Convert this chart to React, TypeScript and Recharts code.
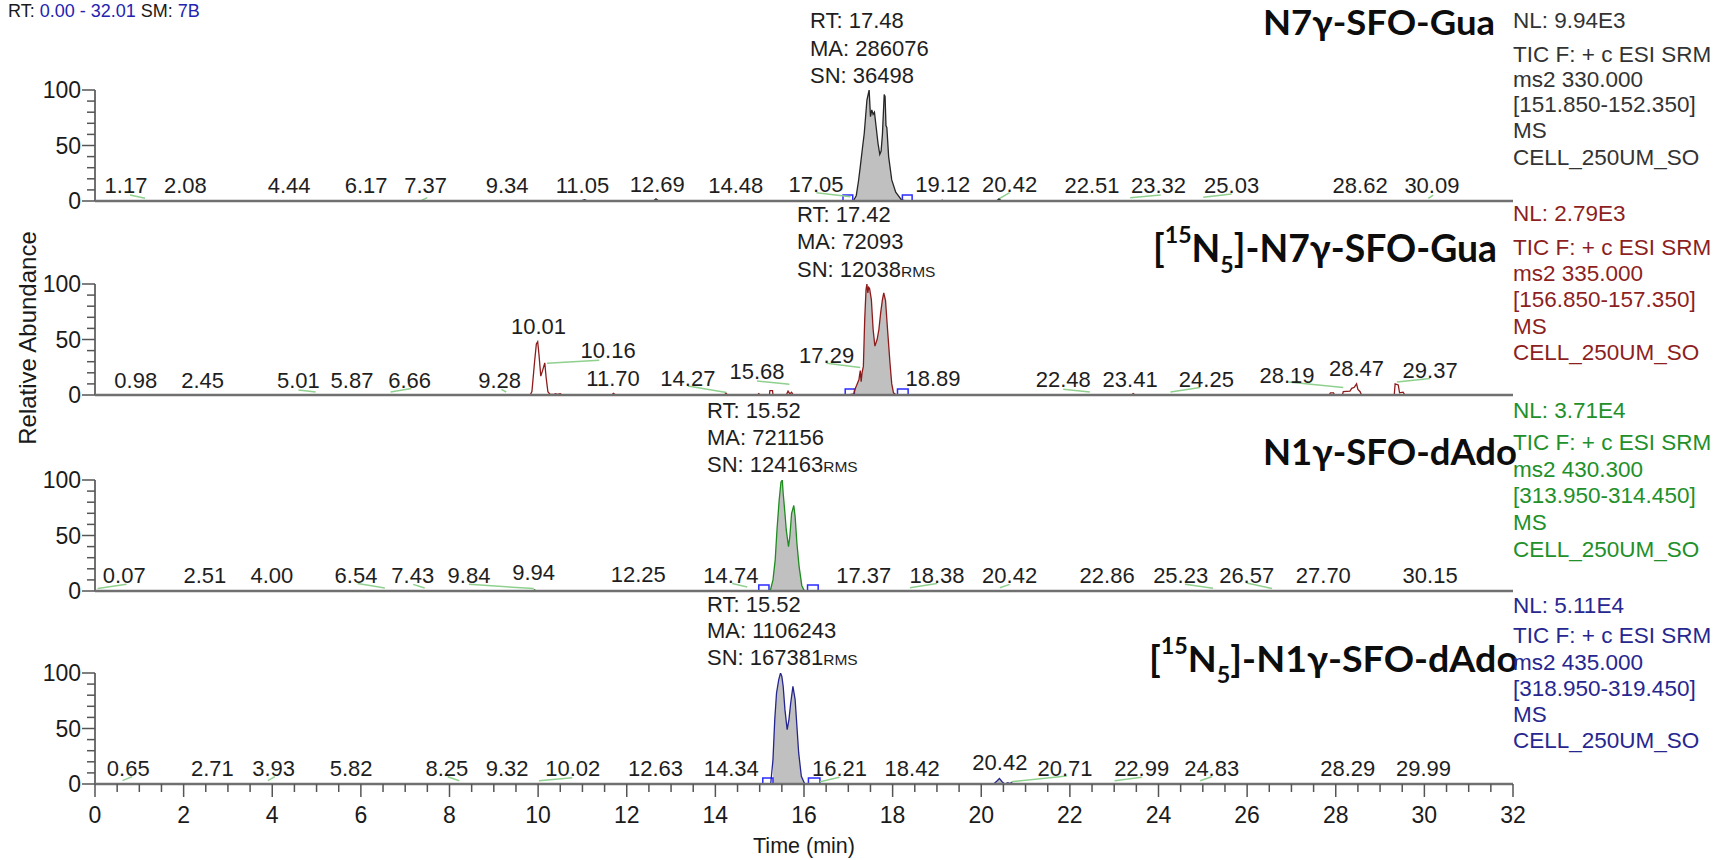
import React from "react";
import {
  Area,
  ComposedChart,
  Line,
  ReferenceArea,
  ReferenceLine,
  Scatter,
  XAxis,
  YAxis
} from "recharts";

const FONT = "'Liberation Sans', Arial, sans-serif";
const TITLE_FONT = "Lato, 'Open Sans', sans-serif";

// axes
const xTicks = Array.from({ length: 65 }, (_, i) => i * 0.5);
const yTicks = [0, 10, 20, 30, 40, 50, 60, 70, 80, 90, 100];

// traces: [time (min), relative abundance (%)]
const guaTrace = [
  [0, 0], [10.95, 0], [11.05, 1.2], [11.12, 0],
  [12.6, 0], [12.66, 2], [12.72, 0],
  [16.9, 0], [17.12, 0.5], [17.18, 5], [17.23, 18], [17.27, 31], [17.32, 48], [17.36, 61],
  [17.42, 91], [17.47, 100], [17.5, 76], [17.53, 82], [17.56, 78], [17.59, 80], [17.63, 66],
  [17.67, 52], [17.71, 42], [17.74, 45], [17.77, 60], [17.81, 96], [17.83, 94], [17.85, 68],
  [17.87, 66], [17.91, 40], [17.98, 19], [18.07, 8], [18.2, 1], [18.3, 0],
  [19.08, 0], [19.12, 0.8], [19.16, 0],
  [20.34, 0], [20.4, 1.8], [20.46, 0],
  [32, 0]
];

const gua15Trace = [
  [0, 0], [9.82, 0], [9.86, 3], [9.92, 30], [9.96, 46], [9.99, 48], [10.02, 36], [10.06, 17],
  [10.1, 22], [10.15, 29], [10.18, 16], [10.22, 3], [10.27, 0.5], [10.36, 0.5], [10.39, 1.2],
  [10.43, 0.6], [10.5, 1.2], [10.54, 0],
  [11.66, 0], [11.7, 1.5], [11.75, 0],
  [14.2, 0], [14.24, 1.5], [14.28, 0],
  [14.95, 0], [14.98, 1.2], [15.01, 0],
  [15.22, 0], [15.23, 4], [15.29, 4], [15.3, 0],
  [15.6, 0], [15.64, 3.5], [15.68, 1], [15.72, 2.5], [15.76, 0],
  [17.0, 0], [17.12, 1], [17.16, 6], [17.2, 10], [17.24, 14], [17.27, 22], [17.29, 12],
  [17.31, 20], [17.34, 26], [17.37, 68], [17.4, 95], [17.42, 100], [17.44, 92], [17.46, 97],
  [17.48, 96], [17.52, 86], [17.56, 59], [17.6, 44], [17.65, 50], [17.69, 59], [17.73, 74],
  [17.77, 86], [17.8, 92], [17.84, 85], [17.88, 62], [17.94, 29], [17.98, 10], [18.02, 2],
  [18.08, 0],
  [23.39, 0], [23.43, 1.2], [23.47, 0],
  [27.85, 0], [27.88, 2], [27.95, 2], [27.97, 0],
  [28.15, 0], [28.17, 3], [28.32, 3.5], [28.36, 6], [28.42, 7], [28.47, 10], [28.5, 5],
  [28.55, 3], [28.58, 0],
  [29.32, 0], [29.34, 10], [29.41, 9], [29.44, 2], [29.52, 2.5], [29.56, 0],
  [32, 0]
];

const dadoTrace = [
  [0, 0], [9.88, 0], [9.92, 1], [9.96, 0],
  [15.2, 0], [15.24, 0.5], [15.3, 10], [15.35, 28], [15.39, 55], [15.44, 82], [15.48, 98],
  [15.51, 100], [15.53, 88], [15.57, 70], [15.6, 55], [15.65, 40], [15.68, 49], [15.72, 70],
  [15.77, 77], [15.8, 67], [15.84, 43], [15.89, 22], [15.95, 5], [16.0, 0.7], [16.05, 0],
  [32, 0]
];

const dado15Trace = [
  [0, 0], [15.2, 0], [15.25, 0.6], [15.3, 22], [15.34, 58], [15.38, 82], [15.43, 94],
  [15.47, 100], [15.5, 97], [15.53, 88], [15.57, 67], [15.62, 49], [15.66, 58], [15.7, 73],
  [15.75, 88], [15.8, 76], [15.84, 52], [15.88, 28], [15.94, 7], [16.01, 0.6], [16.06, 0],
  [20.28, 0], [20.36, 3], [20.41, 5], [20.47, 2], [20.53, 0], [20.6, 1.2], [20.64, 0.3],
  [20.68, 1.2], [20.72, 0],
  [32, 0]
];

// peak labels: [text, time where drawn, height (%)]
const guaLabels: [string, number, number][] = [
  ["1.17", 0.7, 7], ["2.08", 2.04, 7], ["4.44", 4.38, 7], ["6.17", 6.12, 7], ["7.37", 7.46, 7],
  ["9.34", 9.3, 7], ["11.05", 11.0, 7], ["12.69", 12.69, 8], ["14.48", 14.46, 7],
  ["17.05", 16.27, 8], ["19.12", 19.13, 8], ["20.42", 20.64, 8], ["22.51", 22.5, 7],
  ["23.32", 24.0, 7], ["25.03", 25.65, 7], ["28.62", 28.55, 7], ["30.09", 30.17, 7]
];
const gua15Labels: [string, number, number][] = [
  ["0.98", 0.92, 6.7], ["2.45", 2.43, 6.7], ["5.01", 4.59, 6.7], ["5.87", 5.8, 6.7],
  ["6.66", 7.1, 6.7], ["9.28", 9.13, 6.7], ["10.01", 10.01, 54.7], ["10.16", 11.58, 33.7],
  ["11.70", 11.69, 8], ["14.27", 13.38, 8], ["15.68", 14.94, 14], ["17.29", 16.51, 29],
  ["18.89", 18.91, 8], ["22.48", 21.85, 7.5], ["23.41", 23.36, 7.5], ["24.25", 25.08, 7.5],
  ["28.19", 26.9, 11], ["28.47", 28.47, 17], ["29.37", 30.13, 15.7]
];
const dadoLabels: [string, number, number][] = [
  ["0.07", 0.66, 7], ["2.51", 2.48, 7], ["4.00", 3.99, 7], ["6.54", 5.89, 7], ["7.43", 7.17, 7],
  ["9.84", 8.44, 7], ["9.94", 9.9, 10], ["12.25", 12.26, 8], ["14.74", 14.35, 7],
  ["17.37", 17.35, 7], ["18.38", 19.0, 7], ["20.42", 20.64, 7], ["22.86", 22.84, 7],
  ["25.23", 24.5, 7], ["26.57", 25.99, 7], ["27.70", 27.72, 7], ["30.15", 30.13, 7]
];
const dado15Labels: [string, number, number][] = [
  ["0.65", 0.75, 7], ["2.71", 2.65, 7], ["3.93", 4.03, 7], ["5.82", 5.78, 7], ["8.25", 7.94, 7],
  ["9.32", 9.3, 7], ["10.02", 10.78, 7], ["12.63", 12.65, 7], ["14.34", 14.36, 7],
  ["16.21", 16.8, 7], ["18.42", 18.44, 7], ["20.42", 20.42, 12.6], ["20.71", 21.89, 7],
  ["22.99", 23.62, 7], ["24.83", 25.2, 7], ["28.29", 28.27, 7], ["29.99", 29.98, 7]
];

// green label leaders: [t1, v1, t2, v2]
const guaLeaders = [
  [0.79, 5.4, 1.13, 2.4], [7.37, 0.5, 7.5, 3], [16.28, 7.5, 17.05, 3.9], [20.38, 1.5, 20.64, 7.5],
  [23.36, 3, 24.05, 5.4], [25.01, 3.3, 25.65, 6.3], [30.09, 2.4, 30.2, 5.4]
];
const gua15Leaders = [
  [4.59, 4.5, 4.98, 2.7], [6.67, 2.7, 7.14, 5.8], [9.17, 5.1, 9.28, 2.7], [10.2, 28.6, 11.38, 31.2],
  [13.38, 8.1, 14.25, 2.2], [14.94, 12.6, 15.67, 9.6], [16.51, 28.6, 17.27, 24.7],
  [21.85, 5.1, 22.45, 2.7], [24.27, 2.7, 24.94, 6.7], [26.93, 11.7, 28.17, 6.7],
  [29.38, 11.7, 30.13, 14.8]
];
const dadoLeaders = [
  [0.06, 2.2, 0.71, 6], [5.93, 6.7, 6.54, 2.7], [7.18, 6, 7.44, 2.7], [8.44, 6, 9.9, 2.2],
  [14.38, 6.7, 14.72, 3.6], [18.39, 3, 19.0, 6.7], [20.42, 3, 20.64, 6], [24.6, 6, 25.23, 2.5],
  [25.99, 7.2, 26.56, 2.2]
];
const dado15Leaders = [
  [0.62, 3, 0.84, 6.6], [3.9, 3, 4.06, 6.6], [7.96, 6.6, 8.22, 3], [10.02, 3, 10.77, 5.7],
  [16.36, 2.1, 16.8, 6], [20.68, 2.1, 21.93, 7.2], [23.01, 3, 23.62, 6], [24.94, 3, 25.2, 6.6]
];

// integration start / end markers (min)
const guaBoxes = [[16.88, 17.1], [18.22, 18.44]];
const gua15Boxes = [[16.93, 17.14], [18.11, 18.35]];
const dadoBoxes = [[14.98, 15.21], [16.08, 16.32]];
const dado15Boxes = [[15.07, 15.3], [16.1, 16.36]];

// texts
const titles = ["N7γ-SFO-Gua", "N7γ-SFO-Gua", "N1γ-SFO-dAdo", "N1γ-SFO-dAdo"];
const peakInfo = [
  ["RT: 17.48", "MA: 286076", "SN: 36498"],
  ["RT: 17.42", "MA: 72093", "SN: 12038"],
  ["RT: 15.52", "MA: 721156", "SN: 124163"],
  ["RT: 15.52", "MA: 1106243", "SN: 167381"]
];
const scanInfo = [
  ["NL: 9.94E3", "TIC F: + c ESI SRM", "ms2 330.000", "[151.850-152.350]", "MS", "CELL_250UM_SO"],
  ["NL: 2.79E3", "TIC F: + c ESI SRM", "ms2 335.000", "[156.850-157.350]", "MS", "CELL_250UM_SO"],
  ["NL: 3.71E4", "TIC F: + c ESI SRM", "ms2 430.300", "[313.950-314.450]", "MS", "CELL_250UM_SO"],
  ["NL: 5.11E4", "TIC F: + c ESI SRM", "ms2 435.000", "[318.950-319.450]", "MS", "CELL_250UM_SO"]
];

const colors = ["#262626", "#8e1b1b", "#1f8c1f", "#25258e"];
const infoColors = ["#333333", "#8e1f1f", "#22902a", "#27278f"];

const pts = (rows: number[][]) => rows.map(([t, v]) => ({ t, v }));

function XTick(props: any) {
  const { x, y, payload } = props;
  const v = payload.value;
  const major = Math.abs(v % 2) < 1e-6;
  return (
    <g>
      <line x1={x} x2={x} y1={y} y2={y + (major ? 13 : 8)} stroke="#555" strokeWidth={1.5} />
      {major && (
        <text x={x} y={y + 39} textAnchor="middle" fontSize={23} fontFamily={FONT} fill="#1a1a1a">
          {v}
        </text>
      )}
    </g>
  );
}

function YTick(props: any) {
  const { x, y, payload } = props;
  const v = payload.value;
  const major = v % 50 === 0;
  return (
    <g>
      <line x1={x - (major ? 13 : 8)} x2={x} y1={y} y2={y} stroke="#555" strokeWidth={1.5} />
      {major && (
        <text x={x - 14} y={y + 8} textAnchor="end" fontSize={23} fontFamily={FONT} fill="#1a1a1a">
          {v}
        </text>
      )}
    </g>
  );
}

function PeakLabel(props: any) {
  const { cx, cy, payload } = props;
  if (cx == null || cy == null) return null;
  return (
    <text x={cx} y={cy} textAnchor="middle" fontSize={22} fontFamily={FONT} fill="#1e1e1e">
      {payload.text}
    </text>
  );
}

type PanelProps = {
  top: number;
  trace: number[][];
  color: string;
  labels: [string, number, number][];
  leaders: number[][];
  boxes: number[][];
  fills: number[][];
  last?: boolean;
};

function Panel({ top, trace, color, labels, leaders, boxes, fills, last }: PanelProps) {
  const mt = 40;
  const plotH = 111;
  const axisH = last ? 75 : 12;
  const data = pts(trace);
  const fillData = fills.map(([a, b]) => data.filter((p) => p.t >= a && p.t <= b));
  const labelData = labels.map(([text, t, h]) => ({ text, t, h }));
  return (
    <div style={{ position: "absolute", left: 0, top: top - mt }}>
      <ComposedChart
        width={1715}
        height={mt + plotH + axisH}
        margin={{ top: mt, right: 202, bottom: 0, left: 0 }}
      >
        <XAxis
          dataKey="t"
          type="number"
          domain={[0, 32]}
          allowDataOverflow
          ticks={xTicks}
          interval={0}
          height={axisH}
          axisLine={{ stroke: "#707070", strokeWidth: 2.5 }}
          tickLine={false}
          tickSize={0}
          tickMargin={0}
          tick={last ? <XTick /> : false}
        />
        <YAxis
          type="number"
          domain={[0, 100]}
          allowDataOverflow
          ticks={yTicks}
          interval={0}
          width={95}
          axisLine={{ stroke: "#707070", strokeWidth: 2 }}
          tickLine={false}
          tickSize={0}
          tickMargin={0}
          tick={<YTick />}
        />
        {fillData.map((d, i) => (
          <Area
            key={"f" + i}
            data={d}
            dataKey="v"
            type="linear"
            stroke="none"
            fill="#c0c0c0"
            fillOpacity={1}
            isAnimationActive={false}
          />
        ))}
        {leaders.map(([x1, y1, x2, y2], i) => (
          <ReferenceLine
            key={"g" + i}
            segment={[{ x: x1, y: y1 }, { x: x2, y: y2 }]}
            stroke="#8fd08f"
            strokeWidth={1.5}
            ifOverflow="visible"
          />
        ))}
        <ReferenceLine
          segment={[{ x: boxes[0][0], y: 0 }, { x: boxes[1][1], y: 0 }]}
          stroke="#2b2bff"
          strokeWidth={2}
        />
        {boxes.map(([a, b], i) => (
          <ReferenceArea
            key={"b" + i}
            x1={a}
            x2={b}
            y1={0}
            y2={5.5}
            fill="none"
            stroke="#2b2bff"
            strokeWidth={1.5}
          />
        ))}
        <Line
          data={data}
          dataKey="v"
          type="linear"
          stroke={color}
          strokeWidth={1.3}
          dot={false}
          isAnimationActive={false}
        />
        <Scatter data={labelData} dataKey="h" shape={<PeakLabel />} isAnimationActive={false} />
      </ComposedChart>
    </div>
  );
}

// text layout (px)
const titleLayout = [
  { right: 1495, y: 35, size: 34, len: 232, iso: false },
  { right: 1497, y: 262, size: 38, len: 344, iso: true },
  { right: 1517, y: 465, size: 36, len: 254, iso: false },
  { right: 1518, y: 672, size: 37, len: 369, iso: true }
];
const peakLayout = [
  { x: 810, ys: [28, 56, 83], rms: false },
  { x: 797, ys: [222, 249, 277], rms: true },
  { x: 707, ys: [418, 445, 472], rms: true },
  { x: 707, ys: [612, 638, 665], rms: true }
];
const scanLayout = [
  [28, 62, 87, 112, 138, 165],
  [221, 255, 281, 307, 334, 360],
  [418, 450, 477, 503, 530, 557],
  [613, 643, 670, 696, 722, 748]
];

function Overlay() {
  return (
    <svg
      width={1715}
      height={860}
      style={{ position: "absolute", left: 0, top: 0, pointerEvents: "none" }}
    >
      <text x={8} y={17} fontSize={18} fontFamily={FONT} fill="#1a1a1a">
        RT: <tspan fill="#2323b0">0.00 - 32.01</tspan> SM: <tspan fill="#2323b0">7B</tspan>
      </text>
      <text
        transform="translate(36,338) rotate(-90)"
        textAnchor="middle"
        fontSize={24}
        fontFamily={FONT}
        fill="#1a1a1a"
      >
        Relative Abundance
      </text>
      <text x={804} y={853} textAnchor="middle" fontSize={21.5} fontFamily={FONT} fill="#1a1a1a">
        Time (min)
      </text>
      {titleLayout.map((l, i) => (
        <text
          key={"t" + i}
          x={l.right}
          y={l.y}
          textAnchor="end"
          fontSize={l.size}
          fontWeight={700}
          fontFamily={TITLE_FONT}
          fill="#0d0d0d"
          textLength={l.len}
          lengthAdjust="spacingAndGlyphs"
        >
          {l.iso ? (
            <>
              [<tspan fontSize={l.size * 0.62} dy={-l.size * 0.5}>15</tspan>
              <tspan dy={l.size * 0.5}>N</tspan>
              <tspan fontSize={l.size * 0.62} dy={l.size * 0.3}>5</tspan>
              <tspan dy={-l.size * 0.3}>]-{titles[i]}</tspan>
            </>
          ) : (
            titles[i]
          )}
        </text>
      ))}
      {peakLayout.map((l, i) =>
        peakInfo[i].map((s, j) => (
          <text key={"p" + i + j} x={l.x} y={l.ys[j]} fontSize={22} fontFamily={FONT} fill="#1e1e1e">
            {s}
            {j === 2 && l.rms && <tspan fontSize={15.5}>RMS</tspan>}
          </text>
        ))
      )}
      {scanLayout.map((ys, i) =>
        scanInfo[i].map((s, j) => (
          <text key={"s" + i + j} x={1513} y={ys[j]} fontSize={22.5} fontFamily={FONT} fill={infoColors[i]}>
            {s}
          </text>
        ))
      )}
    </svg>
  );
}

export default function App() {
  return (
    <div style={{ position: "relative", width: 1715, height: 860, background: "#fff", overflow: "hidden" }}>
      <style>{"body{margin:0}"}</style>
      <Panel top={90} trace={guaTrace} color={colors[0]} labels={guaLabels} leaders={guaLeaders} boxes={guaBoxes} fills={[[17.1, 18.22]]} />
      <Panel top={284} trace={gua15Trace} color={colors[1]} labels={gua15Labels} leaders={gua15Leaders} boxes={gua15Boxes} fills={[[17.14, 18.11]]} />
      <Panel top={480} trace={dadoTrace} color={colors[2]} labels={dadoLabels} leaders={dadoLeaders} boxes={dadoBoxes} fills={[[15.21, 16.08]]} />
      <Panel top={673} trace={dado15Trace} color={colors[3]} labels={dado15Labels} leaders={dado15Leaders} boxes={dado15Boxes} fills={[[15.3, 16.1], [20.28, 20.53]]} last />
      <Overlay />
    </div>
  );
}
